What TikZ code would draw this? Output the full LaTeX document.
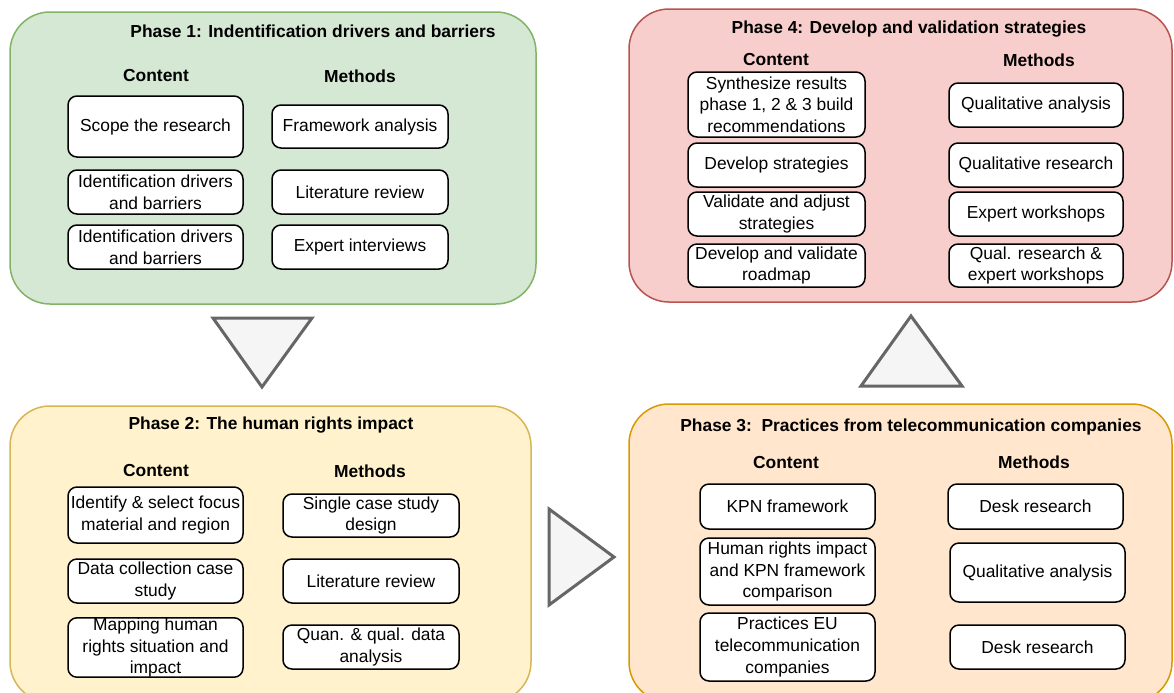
\documentclass[tikz,border=0pt]{standalone}
\usepackage{fontspec}
\setmainfont{Liberation Sans}
\begin{document}
\begin{tikzpicture}[x=0.5pt,y=-0.5pt,
  every node/.style={font=\fontsize{8.7}{10.8}\selectfont, inner sep=0pt, align=center},
  span/.style n args={4}{minimum width={(#3-#1)*0.5pt}, minimum height={(#4-#2)*0.5pt},
                         at={({(#1+#3)/2},{(#2+#4)/2})}},
  phasebox/.style={draw, line width=0.75pt, rounded corners=20pt, rectangle},
  itembox/.style={draw=black, fill=white, line width=0.75pt, rounded corners=4.5pt, rectangle},
  heading/.style={font=\fontsize{8.7}{10.8}\selectfont\bfseries},
  flowtri/.style={draw=black!60, fill=black!4, line width=1.5pt, line join=miter}
]
\useasboundingbox (0,0) rectangle (1174,692);
\clip (0,0) rectangle (1174,692);

\definecolor{greenfill}{HTML}{D5E8D4}\definecolor{greenline}{HTML}{82B366}
\definecolor{yellowfill}{HTML}{FFF2CC}\definecolor{yellowline}{HTML}{D6B656}
\definecolor{orangefill}{HTML}{FFE6CC}\definecolor{orangeline}{HTML}{D79B00}
\definecolor{redfill}{HTML}{F8CECC}\definecolor{redline}{HTML}{B85450}

% Phase containers
\node[phasebox, fill=greenfill, draw=greenline, span={10}{12}{536}{304}] (p1) {};
\node[phasebox, fill=yellowfill, draw=yellowline, span={10}{406}{531}{702}] (p2) {};
\node[phasebox, fill=orangefill, draw=orangeline, span={629}{404}{1172}{702}] (p3) {};
\node[phasebox, fill=redfill, draw=redline, span={629}{9}{1172}{302}] (p4) {};

% Phase 1
\node[heading] (p1t) at (313,31) {Phase 1: Indentification drivers and barriers};
\node[heading] (p1c) at (156,76) {Content};
\node[heading] (p1m) at (360,76) {Methods};
\node[itembox, span={68}{96}{243}{157}] (c11) {Scope the research};
\node[itembox, span={68}{170}{243}{214}] (c12) {Identification drivers\\and barriers};
\node[itembox, span={68}{225}{243}{269}] (c13) {Identification drivers\\and barriers};
\node[itembox, span={272}{105}{448}{148}] (m11) {Framework analysis};
\node[itembox, span={272}{170}{448}{214}] (m12) {Literature review};
\node[itembox, span={272}{225}{448}{269}] (m13) {Expert interviews};

% Phase 2
\node[heading] (p2t) at (271,425) {Phase 2: The human rights impact};
\node[heading] (p2c) at (156,471) {Content};
\node[heading] (p2m) at (370,471) {Methods};
\node[itembox, span={68}{487}{243}{543}] (c21) {Identify \& select focus\\material and region};
\node[itembox, span={68}{559}{243}{603}] (c22) {Data collection case\\study};
\node[itembox, span={68}{618}{243}{677}] (c23) {Mapping human\\rights situation and\\impact};
\node[itembox, span={283}{494}{459}{537}] (m21) {Single case study\\design};
\node[itembox, span={283}{559}{459}{603}] (m22) {Literature review};
\node[itembox, span={283}{625}{459}{669}] (m23) {Quan. \& qual. data\\analysis};

% Phase 3
\node[heading] (p3t) at (911,427) {Phase 3:\ \ Practices from telecommunication companies};
\node[heading] (p3c) at (786,462) {Content};
\node[heading] (p3m) at (1034,462) {Methods};
\node[itembox, span={700}{484}{875}{529}] (c31) {KPN framework};
\node[itembox, span={700}{538}{875}{605}] (c32) {Human rights impact\\and KPN framework\\comparison};
\node[itembox, span={700}{613}{875}{681}] (c33) {Practices EU\\telecommunication\\companies};
\node[itembox, span={948}{484}{1123}{529}] (m31) {Desk research};
\node[itembox, span={950}{543}{1125}{602}] (m32) {Qualitative analysis};
\node[itembox, span={950}{625}{1125}{669}] (m33) {Desk research};

% Phase 4
\node[heading] (p4t) at (909,29) {Phase 4: Develop and validation strategies};
\node[heading] (p4c) at (776,60) {Content};
\node[heading] (p4m) at (1039,60) {Methods};
\node[itembox, span={688}{72}{865}{137}] (c41) {Synthesize results\\phase 1, 2 \& 3 build\\recommendations};
\node[itembox, span={688}{143}{865}{187}] (c42) {Develop strategies};
\node[itembox, span={688}{192}{865}{236}] (c43) {Validate and adjust\\strategies};
\node[itembox, span={688}{244}{865}{287}] (c44) {Develop and validate\\roadmap};
\node[itembox, span={949}{83}{1123}{127}] (m41) {Qualitative analysis};
\node[itembox, span={949}{143}{1123}{187}] (m42) {Qualitative research};
\node[itembox, span={949}{192}{1123}{236}] (m43) {Expert workshops};
\node[itembox, span={949}{244}{1123}{287}] (m44) {Qual. research \&\\expert workshops};

% Flow triangles between the phases
\draw[flowtri] (213,318) -- (312,318) -- (262,387) -- cycle;
\draw[flowtri] (549,509) -- (614,557) -- (549,605) -- cycle;
\draw[flowtri] (861,386) -- (962,386) -- (911,316) -- cycle;
\end{tikzpicture}
\end{document}
